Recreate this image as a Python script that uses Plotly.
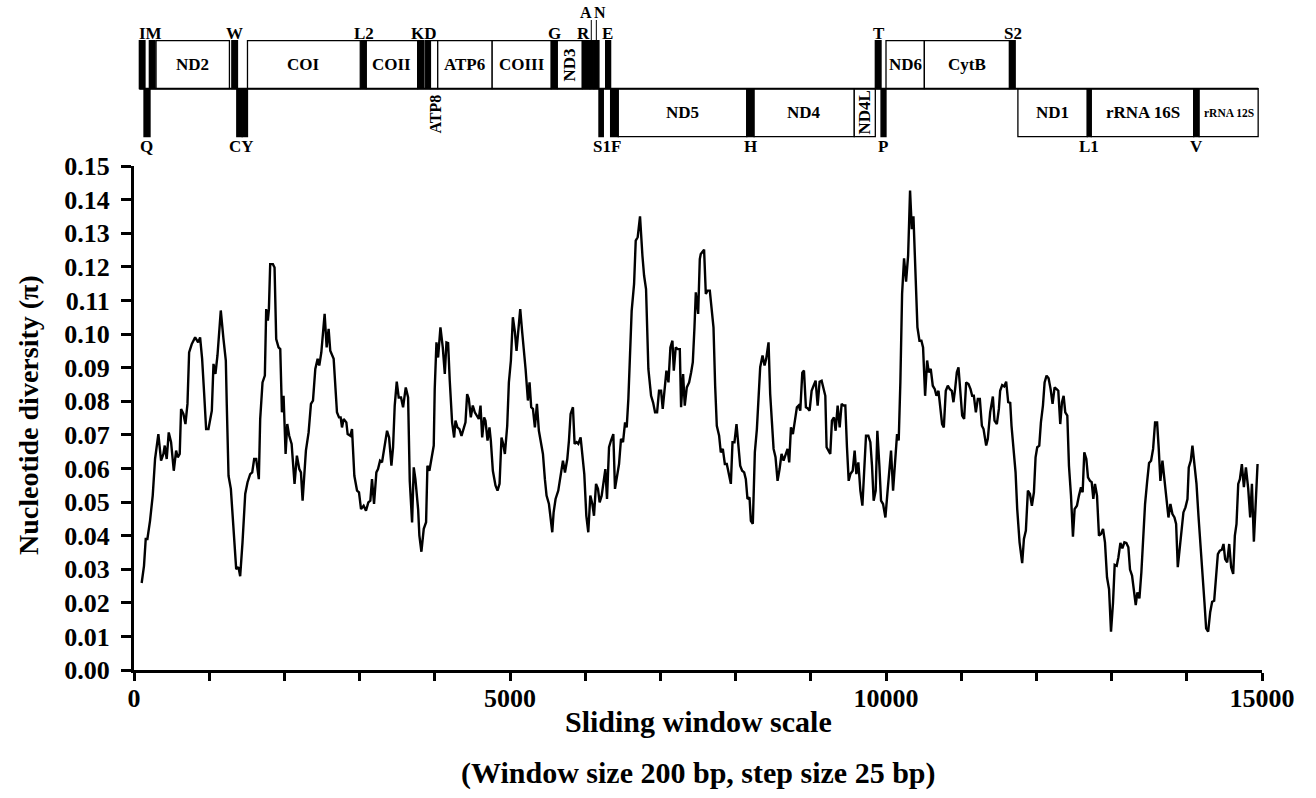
import plotly.graph_objects as go

# ---------------- data: sliding-window nucleotide diversity (pos bp, pi) ----------------
pi_segment_1 = [
    (102, .0259), (133, .031), (156, .039), (178, .039), (213, .0444), (249, .0519), (280, .0628), (324, .0702),
    (360, .0623), (391, .0643), (409, .0668), (435, .0628), (462, .0707), (493, .0678), (529, .0593), (560, .0653),
    (582, .0633), (608, .0643), (626, .0777), (657, .0762), (684, .0732), (711, .0792), (733, .0945), (768, .097),
    (813, .099), (853, .0975), (879, .099), (906, .0926), (932, .0826), (959, .0717), (990, .0717), (1035, .0772),
    (1057, .0911), (1083, .0881), (1110, .0936), (1154, .107), (1190, .0985), (1221, .0921), (1234, .0787),
    (1257, .0578), (1288, .0539), (1323, .043), (1359, .030), (1390, .0306), (1412, .0279), (1443, .038),
    (1479, .0524), (1510, .0559), (1545, .0583), (1572, .0588), (1598, .0628), (1625, .0628), (1660, .0568),
    (1678, .0747), (1709, .0856), (1740, .0876), (1758, .1074), (1780, .104), (1794, .1074), (1811, .1208),
    (1847, .1208), (1869, .1198), (1891, .0985), (1922, .096), (1945, .0955), (1967, .0767), (1989, .0816),
    (2016, .0643), (2038, .0732), (2064, .0697), (2096, .0673), (2135, .0554), (2166, .0638), (2198, .0598),
    (2220, .0588), (2242, .0504), (2264, .0588), (2286, .0653), (2322, .0707), (2353, .0792), (2380, .0802),
    (2411, .0896), (2442, .0926), (2464, .0906), (2491, .0945), (2535, .106), (2562, .096), (2588, .1015),
    (2610, .095), (2655, .0926), (2699, .0767), (2726, .0752), (2748, .0752), (2766, .0722), (2788, .0747),
    (2824, .0737), (2841, .0702), (2877, .0697), (2899, .0717), (2930, .0578), (2966, .0534), (2992, .0529),
    (3019, .0479), (3054, .0489), (3085, .0474), (3116, .0499), (3143, .0504), (3165, .0568), (3192, .0494),
    (3223, .0588), (3245, .0598), (3272, .0623), (3298, .0618), (3330, .0658), (3365, .0712), (3392, .0692),
    (3423, .0608), (3445, .0663), (3467, .0787), (3494, .0858), (3520, .0811), (3551, .0811), (3578, .0782),
    (3614, .0841), (3645, .0811), (3667, .0563), (3698, .0439), (3720, .0603),
]
pi_segment_2 = [
    (3742, .0568), (3778, .0479), (3795, .040), (3822, .0352), (3853, .042), (3884, .044), (3902, .0608),
    (3928, .0593), (3955, .0623), (3986, .0668), (3999, .0836), (4022, .0975), (4044, .093), (4075, .102),
    (4106, .096), (4133, .0881), (4155, .0975), (4177, .0973), (4199, .0861), (4230, .0737), (4257, .0692),
    (4275, .0742), (4301, .0722), (4328, .0717), (4355, .0697), (4381, .0717), (4408, .0737), (4430, .0821),
    (4452, .0807), (4479, .0752), (4505, .0787), (4532, .0767), (4563, .0757), (4585, .0747), (4608, .0787),
    (4630, .0692), (4656, .0752), (4674, .0742), (4701, .0683), (4727, .0722), (4745, .0683), (4772, .0593),
    (4807, .0549), (4834, .0534), (4861, .0554), (4887, .0692), (4909, .0673), (4932, .0643), (4963, .0727),
    (4985, .0856), (5012, .0921), (5038, .105), (5065, .1006), (5087, .095), (5109, .1006), (5136, .1074),
    (5162, .1006), (5185, .096), (5207, .0896), (5238, .0802), (5260, .0856), (5282, .0782), (5305, .0777),
    (5331, .0722), (5358, .0792), (5384, .0712), (5407, .0678), (5438, .0643), (5464, .0568), (5486, .0519),
    (5518, .0494), (5540, .0454), (5562, .041), (5580, .0469), (5606, .0509), (5642, .0534), (5669, .0573),
    (5704, .0623), (5731, .0588), (5762, .0628), (5784, .0683), (5806, .0762), (5837, .0782), (5859, .0673),
    (5886, .0678), (5908, .0673), (5939, .0692), (5961, .0648), (5988, .0583), (6015, .0459), (6041, .041),
    (6068, .0519), (6095, .0494), (6117, .0459), (6144, .0554), (6170, .0539), (6192, .0499), (6219, .0519),
    (6246, .0568), (6268, .0598), (6290, .0509), (6317, .0663), (6343, .0683), (6374, .0702), (6396, .0539),
    (6423, .0573), (6450, .0613), (6476, .0688), (6503, .0678), (6530, .0737), (6552, .0722), (6574, .0807),
    (6596, .0955), (6618, .1069), (6650, .1149), (6672, .1278), (6698, .1288), (6729, .135), (6761, .1233),
    (6783, .1174), (6809, .1134), (6840, .0896), (6876, .0816), (6903, .0796), (6929, .0767), (6956, .0767),
    (6982, .0831), (7009, .0831), (7031, .0777), (7058, .0836), (7080, .0891), (7107, .0856), (7133, .096),
    (7160, .098), (7178, .0891), (7204, .096), (7231, .0955), (7258, .0955), (7275, .0782), (7302, .0881),
    (7324, .0787), (7351, .0841), (7382, .0856), (7409, .0886), (7431, .0916), (7453, .102), (7471, .1124),
    (7502, .106), (7524, .1223),
]
pi_segment_3 = [
    (7537, .1238), (7581, .1251), (7604, .1119), (7626, .1129), (7657, .1129), (7679, .1084), (7706, .102),
    (7728, .0846), (7750, .0727), (7781, .0697), (7803, .0648), (7830, .0658), (7857, .0613), (7883, .0613),
    (7910, .0588), (7937, .0554), (7959, .0678), (7985, .0678), (8012, .0732), (8039, .0663), (8061, .0608),
    (8087, .0593), (8114, .0588), (8136, .0568), (8158, .0509), (8185, .0514), (8203, .0444), (8229, .0435),
    (8256, .0648), (8283, .0717), (8305, .0826), (8327, .0901), (8358, .0936), (8385, .0906), (8407, .0926),
    (8438, .0975), (8460, .0821), (8483, .0717), (8505, .0658), (8531, .0633), (8558, .0563), (8585, .0598),
    (8611, .0643), (8638, .0623), (8665, .0643), (8691, .0658), (8713, .0618), (8736, .0722), (8762, .0702),
    (8789, .0737), (8815, .0782), (8838, .0787), (8860, .0772), (8887, .0885), (8909, .0891), (8935, .0782),
    (8957, .0779), (8984, .0772), (9011, .0831), (9037, .0846), (9064, .0861), (9091, .0787), (9117, .0858),
    (9144, .0861), (9171, .0836), (9193, .0816), (9210, .0663), (9237, .0653), (9259, .0643), (9281, .0742),
    (9308, .0752), (9330, .0712), (9357, .0787), (9384, .0722), (9410, .0792), (9437, .0787), (9459, .0787),
    (9481, .0663), (9504, .0563), (9526, .0583), (9557, .0593), (9583, .0653), (9606, .0583), (9632, .0618),
    (9659, .0534), (9686, .0489), (9708, .0593), (9734, .0697), (9765, .0697), (9792, .0678), (9814, .0608),
    (9836, .0504), (9863, .0534), (9885, .0712), (9912, .0608), (9934, .0504), (9961, .0494), (9992, .0454),
    (10018, .0524), (10040, .0583), (10067, .0653), (10094, .0534), (10120, .0608), (10147, .0702),
    (10169, .0683), (10191, .0856), (10214, .1119), (10240, .1225), (10267, .1156), (10294, .1233),
    (10320, .1427), (10343, .1312), (10365, .135), (10387, .1233), (10418, .102), (10445, .098), (10471, .098),
    (10493, .096), (10520, .0816), (10547, .0921), (10569, .0886), (10595, .0896), (10622, .0846),
    (10649, .0836), (10671, .0816), (10698, .0831), (10724, .0767), (10746, .0732), (10769, .0722),
    (10795, .0831), (10822, .0846), (10849, .0836), (10875, .0831), (10897, .0797), (10919, .0836),
    (10942, .0886), (10964, .0901), (10986, .0821), (11013, .0757), (11039, .0747), (11066, .0856),
    (11097, .0851), (11124, .0836), (11146, .0816), (11168, .0816), (11195, .0767), (11221, .0807),
    (11248, .0807), (11275, .0727), (11297, .0717),
]
pi_segment_4 = [
    (11332, .0668), (11354, .0688), (11385, .0767), (11421, .0814), (11443, .0742), (11474, .0732),
    (11501, .0777), (11518, .0831), (11545, .0848), (11572, .0844), (11598, .0858), (11625, .0797),
    (11652, .0795), (11669, .0727), (11696, .0658), (11723, .0588), (11745, .0479), (11776, .038),
    (11811, .0318), (11834, .039), (11860, .0415), (11887, .0534), (11914, .0524), (11940, .0489),
    (11967, .0529), (11989, .0633), (12011, .0663), (12038, .0668), (12060, .0737), (12087, .0787),
    (12109, .0856), (12135, .0876), (12162, .0868), (12189, .0836), (12215, .0792), (12242, .0841),
    (12269, .0836), (12291, .0831), (12317, .0732), (12340, .0797), (12362, .0816), (12384, .0767),
    (12411, .0757), (12433, .0608), (12460, .0519), (12486, .0397), (12508, .0479), (12539, .0489),
    (12566, .0519), (12593, .0544), (12615, .0529), (12637, .0648), (12664, .0628), (12686, .0573),
    (12713, .0563), (12735, .0559), (12757, .0509), (12779, .0554), (12806, .0519), (12832, .040),
    (12859, .0405), (12886, .042), (12912, .038), (12939, .0276), (12966, .0241), (12992, .0114),
    (13019, .0201), (13041, .0313), (13068, .031), (13090, .0335), (13117, .0378), (13143, .0362),
    (13170, .038), (13196, .0378), (13223, .0365), (13245, .0299), (13272, .0281), (13299, .0221),
    (13321, .0193), (13343, .0231), (13370, .0213), (13396, .0291), (13423, .0395), (13445, .0494),
    (13472, .0559), (13498, .0616), (13525, .0623), (13552, .0658), (13578, .0737), (13605, .0737),
    (13627, .0658), (13649, .0563), (13676, .0623), (13702, .0563), (13729, .0519), (13756, .0454),
    (13782, .0494), (13809, .0464), (13836, .0454), (13858, .0435), (13880, .0306), (13907, .037),
    (13933, .041), (13955, .0469), (13982, .0484), (14009, .0509), (14026, .0603), (14053, .0623),
    (14075, .0668), (14102, .0613), (14129, .0554), (14155, .0459), (14182, .038), (14209, .0276),
    (14235, .0201), (14257, .0124), (14284, .0114), (14311, .0172), (14337, .0203), (14364, .0206),
    (14390, .0281), (14413, .0345), (14439, .0355), (14466, .0358), (14488, .0375), (14510, .033),
    (14537, .032), (14564, .0375), (14590, .0306), (14617, .0286), (14639, .040), (14661, .0435),
    (14684, .0554), (14706, .0568), (14732, .0613), (14759, .0544), (14786, .0603), (14817, .0539),
    (14843, .0454), (14866, .0554), (14892, .0382), (14919, .0494), (14941, .0613),
]

# ---------------- gene map (bp) ----------------
top_strand_names = ["I", "M", "ND2", "W", "COI", "L2", "COII", "K", "D", "ATP8", "ATP6", "COIII", "G",
                    "ND3", "R", "A", "N", "E", "T", "ND6", "CytB", "S2"]
top_strand_start = [71, 204, 293, 1301, 1509, 3019, 3089, 3772, 3871, 3942, 4039, 4763, 5549,
                    5629, 5962, 6063, 6116, 6272, 9858, 10000, 10510, 11642]
top_strand_end = [146, 280, 1269, 1376, 3009, 3089, 3772, 3852, 3942, 4039, 4763, 5549, 5629,
                  5962, 6063, 6116, 6183, 6338, 9934, 10510, 11642, 11718]

bottom_strand_names = ["Q", "C", "Y", "S1", "F", "ND5", "H", "ND4", "ND4L", "P", "ND1", "L1",
                       "rRNA 16S", "V", "rRNA 12S"]
bottom_strand_start = [133, 1367, 1438, 6183, 6338, 6440, 8149, 8246, 9578, 9934, 11754, 12677,
                       12730, 14092, 14164]
bottom_strand_end = [213, 1438, 1509, 6241, 6440, 8149, 8246, 9578, 9858, 10000, 12677, 12730,
                     14092, 14164, 14949]

top_trna_labels = ["IM", "W", "L2", "KD", "G", "R", "E", "T", "S2"]
top_trna_label_pos = [220, 1332, 3063, 3862, 5586, 5972, 6298, 9901, 11685]
raised_trna_labels = ["A", "N"]
raised_trna_label_pos = [6015, 6200]
raised_trna_leader_pos = [6081, 6148]
bottom_trna_labels = ["Q", "CY", "S1F", "H", "P", "L1", "V"]
bottom_trna_label_pos = [166, 1431, 6285, 8203, 9960, 12703, 14128]

x_tick_vals = [0, 5000, 10000, 15000]
y_tick_vals = [i / 100 for i in range(16)]

# ---------------- layout geometry ----------------
FONT = "Liberation Serif"
W, H = 1316, 798
ML, MR, MT, MB = 134, 54, 0, 128
plot_h = H - MT - MB
main_top_px = 166
main_dom_top = (plot_h - main_top_px) / plot_h
# gene-map axis: row unit = 48 px, middle line at py=89
row_px = 48.0
base_px = 136.7
y2_lo = (base_px - main_top_px) / row_px
y2_hi = (base_px - 0) / row_px

positions, pis = [], []
for seg in (pi_segment_1, pi_segment_2, pi_segment_3, pi_segment_4):
    for p, v in seg:
        positions.append(p)
        pis.append(v)

fig = go.Figure()
fig.add_trace(go.Scatter(x=positions, y=pis, mode="lines",
                         line=dict(color="black", width=2.4), showlegend=False,
                         hoverinfo="skip"))
fig.add_trace(go.Scatter(x=[None], y=[None], xaxis="x", yaxis="y2", showlegend=False,
                         hoverinfo="skip"))

shapes = []
annotations = []


def is_trna(name):
    return len(name) <= 2


def add_rows(names, starts, ends, y0, y1):
    for n, s, e in zip(names, starts, ends):
        t = is_trna(n)
        shapes.append(dict(type="rect", xref="x", yref="y2", x0=s, x1=e, y0=y0, y1=y1,
                           line=dict(color="black", width=1.3),
                           fillcolor="black" if t else "white", layer="above"))
        if not t:
            label_y = (y0 + y1) / 2
            angle = 0
            size = 17
            if n in ("ND3", "ND4L"):
                angle = -90
            if n == "ATP8":
                angle = -90
                size = 16
                label_y = 0.47
                cx = 4008
            else:
                cx = (s + e) / 2
            if n == "rRNA 12S":
                size = 11.5
            annotations.append(dict(x=cx, y=label_y, xref="x", yref="y2", text=n,
                                    showarrow=False, textangle=angle,
                                    font=dict(family=FONT, size=size, color="black", weight="bold"),
                                    xanchor="center", yanchor="middle"))


add_rows(top_strand_names, top_strand_start, top_strand_end, 1, 2)
add_rows(bottom_strand_names, bottom_strand_start, bottom_strand_end, 0, 1)

# middle strand line
shapes.append(dict(type="line", xref="x", yref="y2", x0=min(top_strand_start + bottom_strand_start),
                   x1=max(top_strand_end + bottom_strand_end), y0=1, y1=1,
                   line=dict(color="black", width=2), layer="above"))

label_font = dict(family=FONT, size=17, color="black", weight="bold")
raised_font = dict(family=FONT, size=16, color="black", weight="bold")
for t, p in zip(top_trna_labels, top_trna_label_pos):
    annotations.append(dict(x=p, y=(base_px - 33) / row_px, xref="x", yref="y2", text=t,
                            showarrow=False, font=label_font, xanchor="center", yanchor="middle"))
for t, p in zip(raised_trna_labels, raised_trna_label_pos):
    annotations.append(dict(x=p, y=(base_px - 12) / row_px, xref="x", yref="y2", text=t,
                            showarrow=False, font=raised_font, xanchor="center", yanchor="middle"))
for p in raised_trna_leader_pos:
    shapes.append(dict(type="line", xref="x", yref="y2", x0=p, x1=p, y0=2,
                       y1=(base_px - 20) / row_px, line=dict(color="black", width=1)))
for t, p in zip(bottom_trna_labels, bottom_trna_label_pos):
    annotations.append(dict(x=p, y=(base_px - 146) / row_px, xref="x", yref="y2", text=t,
                            showarrow=False, font=label_font, xanchor="center", yanchor="middle"))

# axis titles
plot_w = W - ML - MR
annotations.append(dict(x=0.5, y=(plot_h - 721) / plot_h, xref="paper", yref="paper",
                        text="Sliding window scale", showarrow=False,
                        font=dict(family=FONT, size=30, color="black", weight="bold"),
                        xanchor="center", yanchor="middle"))
annotations.append(dict(x=0.5, y=(plot_h - 773) / plot_h, xref="paper", yref="paper",
                        text="(Window size 200 bp, step size 25 bp)", showarrow=False,
                        font=dict(family=FONT, size=30, color="black", weight="bold"),
                        xanchor="center", yanchor="middle"))
annotations.append(dict(x=(28 - ML) / plot_w, y=(plot_h - 415) / plot_h, xref="paper", yref="paper",
                        text="Nucleotide diversity (π)", showarrow=False, textangle=-90,
                        font=dict(family=FONT, size=28, color="black", weight="bold"),
                        xanchor="center", yanchor="middle"))

tick_font = dict(family=FONT, size=26, color="black", weight="bold")
fig.update_layout(
    width=W, height=H,
    margin=dict(l=ML, r=MR, t=MT, b=MB, pad=0, autoexpand=False),
    paper_bgcolor="white", plot_bgcolor="white",
    showlegend=False,
    shapes=shapes,
    annotations=annotations,
    xaxis=dict(range=[0, 15000], anchor="y", showgrid=False, zeroline=False, automargin=False,
               showline=True, linecolor="black", linewidth=3,
               ticks="outside", ticklen=8, tickwidth=2.5, tickcolor="black",
               tickvals=x_tick_vals, ticktext=[str(v) for v in x_tick_vals],
               tickfont=tick_font, ticklabelstandoff=-5,
               minor=dict(dtick=1000, tick0=0, ticks="outside", ticklen=8, tickwidth=2.5,
                          tickcolor="black", showgrid=False)),
    yaxis=dict(domain=[0, main_dom_top], range=[0, 0.15], anchor="x", showgrid=False,
               zeroline=False, showline=True, linecolor="black", linewidth=3, automargin=False,
               ticks="outside", ticklen=10, tickwidth=3, tickcolor="black",
               tickvals=y_tick_vals, tickformat=".2f", tickfont=tick_font,
               ticklabelstandoff=6),
    yaxis2=dict(domain=[main_dom_top, 1], range=[y2_lo, y2_hi], anchor="x", visible=False,
                showgrid=False, zeroline=False, fixedrange=True, automargin=False),
)

fig.write_html("out.html")
